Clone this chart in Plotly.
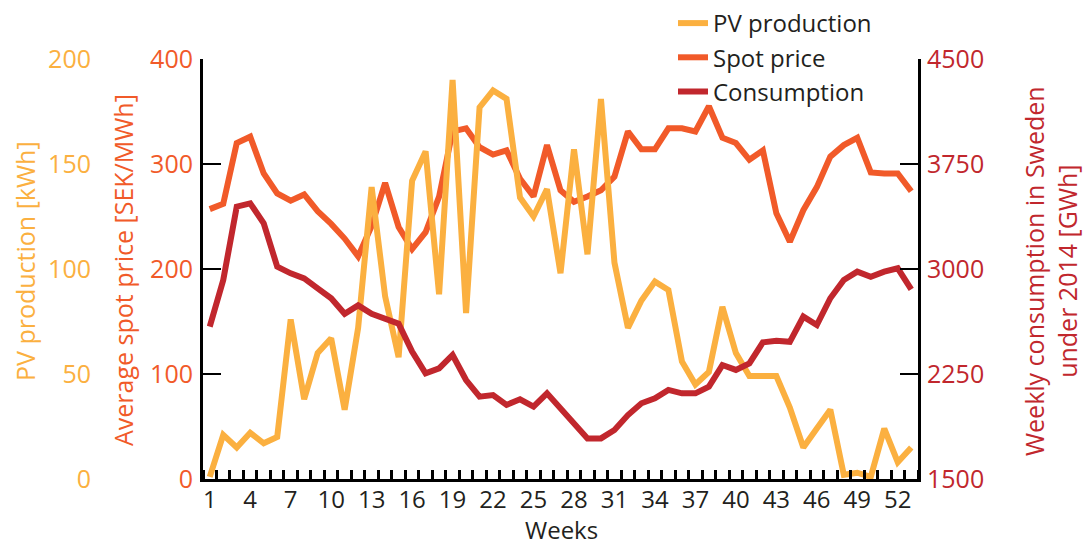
import plotly.graph_objects as go

weeks = list(range(1, 54))
x_tick_weeks = list(range(1, 53, 3))

pv_production = [1, 21, 15, 22, 17, 20, 76, 38, 60, 67, 33, 72, 139, 87, 58, 142, 156, 88,
                 190, 79, 177, 185, 181, 134, 125, 138, 98, 157, 107, 181, 103, 72, 85, 94,
                 90, 56, 45, 51, 82, 60, 49, 49, 49, 34, 15, 24, 33, 2, 3, 1, 24, 8, 15]
spot_price = [257, 262, 320, 326, 291, 272, 265, 271, 255, 243, 229, 212, 241, 282, 240,
              219, 235, 269, 331, 334, 316, 309, 313, 286, 269, 318, 275, 264, 269, 275,
              288, 331, 314, 314, 334, 334, 331, 355, 325, 320, 304, 313, 253, 226, 256,
              278, 307, 318, 325, 292, 291, 291, 274]
consumption = [2588, 2921, 3445, 3469, 3326, 3017, 2969, 2933, 2862, 2791, 2680, 2740,
               2680, 2650, 2610, 2410, 2255, 2290, 2386, 2207, 2088, 2100, 2029, 2069,
               2017, 2112, 2005, 1886, 1790, 1790, 1850, 1957, 2041, 2076, 2136, 2112,
               2112, 2160, 2314, 2279, 2326, 2476, 2488, 2480, 2660, 2600, 2791, 2921,
               2981, 2945, 2981, 3005, 2855]

C_PV = "#FBB040"
C_SPOT = "#F15A29"
C_CONS = "#C1272D"
C_TXT = "#231F20"
FONT = "Open Sans"

fig = go.Figure()
fig.add_trace(go.Scatter(x=weeks, y=spot_price, mode="lines", name="Spot price",
                         line=dict(color=C_SPOT, width=6), yaxis="y", legendrank=2))
fig.add_trace(go.Scatter(x=weeks, y=consumption, mode="lines", name="Consumption",
                         line=dict(color=C_CONS, width=6), yaxis="y3", legendrank=3))
fig.add_trace(go.Scatter(x=weeks, y=pv_production, mode="lines", name="PV production",
                         line=dict(color=C_PV, width=6), yaxis="y2", legendrank=1))

W, H = 1083, 545
ML, MR, MT, MB = 10, 10, 59, 66
pw = W - ML - MR
ph = H - MT - MB


def px(xp):
    return (xp - ML) / pw


def py(yp):
    return (H - MB - yp) / ph


fig.update_layout(
    width=W, height=H,
    margin=dict(l=ML, r=MR, t=MT, b=MB, autoexpand=False),
    paper_bgcolor="white", plot_bgcolor="white",
    font=dict(family=FONT, size=25, color=C_TXT),
    showlegend=True,
    legend=dict(x=px(673), y=py(1), xanchor="left", yanchor="top",
                font=dict(size=24, color=C_TXT), bgcolor="rgba(0,0,0,0)",
                tracegroupgap=0),
    xaxis=dict(
        domain=[px(203), px(918)], range=[0.5, 53.5],
        showline=True, linecolor="black", linewidth=3, mirror=False,
        showgrid=False, zeroline=False,
        tickmode="array", tickvals=x_tick_weeks, ticktext=[str(v) for v in x_tick_weeks],
        ticks="", tickfont=dict(size=24, color=C_TXT), ticklabelstandoff=-3,
        minor=dict(tickmode="array", tickvals=[w + 0.5 for w in range(0, 54)],
                   ticks="inside", ticklen=9, tickwidth=3, tickcolor="black"),
    ),
    yaxis=dict(
        range=[0, 400], tickmode="linear", tick0=0, dtick=100,
        showline=True, linecolor="black", linewidth=3,
        ticks="inside", ticklen=18, tickwidth=2, tickcolor="black",
        showgrid=False, zeroline=False,
        tickfont=dict(size=25, color=C_SPOT), ticklabelstandoff=2,
    ),
    yaxis2=dict(
        range=[0, 200], tickmode="linear", tick0=0, dtick=50,
        overlaying="y", side="left", anchor="free", position=px(91),
        showline=False, ticks="", showgrid=False, zeroline=False,
        tickfont=dict(size=25, color=C_PV),
    ),
    yaxis3=dict(
        range=[1500, 4500], tickmode="linear", tick0=1500, dtick=750,
        overlaying="y", side="right", anchor="x",
        showline=True, linecolor="black", linewidth=3,
        ticks="inside", ticklen=18, tickwidth=2, tickcolor="black",
        showgrid=False, zeroline=False,
        tickfont=dict(size=25, color=C_CONS), ticklabelstandoff=1,
    ),
    annotations=[
        dict(text="Weeks", xref="paper", yref="paper",
             x=px(561), y=py(529), showarrow=False, borderpad=0,
             xanchor="center", yanchor="middle", font=dict(size=24, color=C_TXT)),
        dict(text="PV production [kWh]", xref="paper", yref="paper",
             x=px(25), y=py(261), textangle=-90, showarrow=False,
             xanchor="center", yanchor="middle", font=dict(size=25, color=C_PV)),
        dict(text="Average spot price [SEK/MWh]", xref="paper", yref="paper",
             x=px(123), y=py(270), textangle=-90, showarrow=False,
             xanchor="center", yanchor="middle", font=dict(size=25, color=C_SPOT)),
        dict(text="Weekly consumption in Sweden<br>under 2014 [GWh]", xref="paper",
             yref="paper", x=px(1050), y=py(271), textangle=-90, showarrow=False,
             xanchor="center", yanchor="middle", align="center",
             font=dict(size=25, color=C_CONS)),
    ],
)

fig.write_html("out.html", config={"displayModeBar": False},
               post_script="document.body.style.margin='0px';")
